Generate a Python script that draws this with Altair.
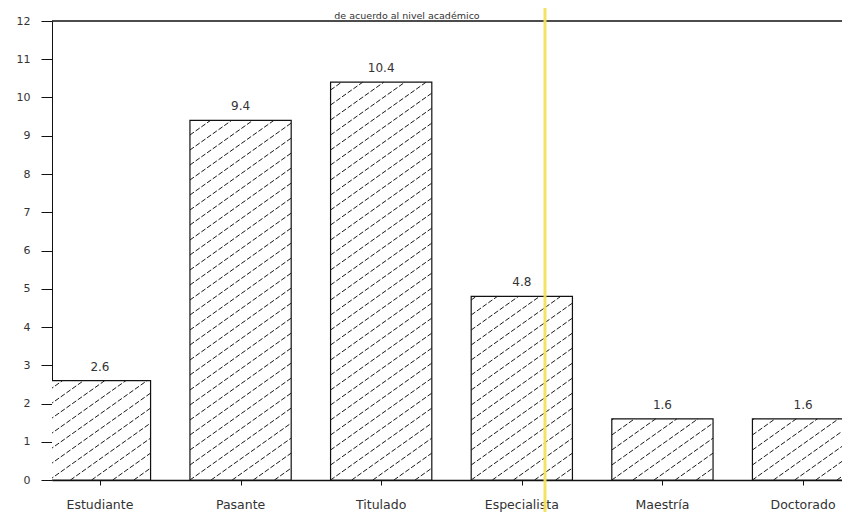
import altair as alt
import pandas as pd
import numpy as np

categories = ["Estudiante", "Pasante", "Titulado", "Especialista", "Maestría", "Doctorado"]
values = [2.6, 9.4, 10.4, 4.8, 1.6, 1.6]
value_labels = ["2.6", "9.4", "10.4", "4.8", "1.6", "1.6"]
y_ticks = list(range(0, 13))
title_text = "de acuerdo al nivel académico"

W, H = 790, 459
X_MIN, X_MAX = -0.341, 5.277
Y_MAX = 12
HALF = 0.36
px_x = W / (X_MAX - X_MIN)
px_y = H / Y_MAX
FONT = "DejaVu Sans"

bars = pd.DataFrame({"idx": list(range(len(categories))), "cat": categories,
                     "value": values, "label": value_labels})
bars["x0"] = bars["idx"] - HALF
bars["x1"] = bars["idx"] + HALF

# hatch segments derived from each bar's rectangle
SLOPE, STEP = 0.71, 15
rows = []
for _, r in bars.iterrows():
    bw = 2 * HALF * px_x
    bh = r["value"] * px_y
    k0 = int(np.floor(-SLOPE * bw / STEP))
    k1 = int(np.ceil(bh / STEP))
    for k in range(k0, k1 + 1):
        c = k * STEP
        lo = max(0.0, -c / SLOPE)
        hi = min(bw, (bh - c) / SLOPE)
        if hi - lo > 0.5:
            rows.append(dict(hx=r["x0"] + lo / px_x, hx2=r["x0"] + hi / px_x,
                             hy=(SLOPE * lo + c) / px_y, hy2=(SLOPE * hi + c) / px_y))
hatch = pd.DataFrame(rows)

xscale = alt.Scale(domain=[X_MIN, X_MAX], nice=False, zero=False)
yscale = alt.Scale(domain=[0, Y_MAX], nice=False)
xaxis = alt.Axis(values=list(range(len(categories))), labels=False, tickSize=5,
                 grid=False, title=None, domainColor="#111", tickColor="#111",
                 domainWidth=1.3)
yaxis = alt.Axis(values=y_ticks, tickSize=11, labelPadding=11, labelFontSize=11,
                 labelFont=FONT, labelColor="#333", grid=False, title=None,
                 domainColor="#111", tickColor="#111")

base = alt.Chart(bars)

rects = base.mark_rect(fill="white", stroke="#111", strokeWidth=1.2, clip=True).encode(
    x=alt.X("x0:Q", scale=xscale, axis=xaxis),
    x2="x1:Q",
    y=alt.Y("value:Q", scale=yscale, axis=yaxis),
    y2=alt.datum(0),
)

hatch_layer = alt.Chart(hatch).mark_rule(strokeDash=[5, 2], strokeWidth=1, color="#1a1a1a",
                                          clip=True).encode(
    x=alt.X("hx:Q", scale=xscale, axis=xaxis),
    x2="hx2:Q",
    y=alt.Y("hy:Q", scale=yscale, axis=yaxis),
    y2="hy2:Q",
)

val_text = base.mark_text(dy=-14, fontSize=12, font=FONT, color="#333").encode(
    x=alt.X("idx:Q", scale=xscale, axis=xaxis),
    y=alt.Y("value:Q", scale=yscale, axis=yaxis),
    text="label:N",
)

cat_text = base.mark_text(fontSize=12.5, font=FONT, color="#333",
                          baseline="middle").encode(
    x=alt.X("idx:Q", scale=xscale, axis=xaxis),
    y=alt.value(H + 25),
    text="cat:N",
)

top_rule = alt.Chart(pd.DataFrame({"top": [Y_MAX]})).mark_rule(color="#111", strokeWidth=1.3).encode(
    y=alt.Y("top:Q", scale=yscale, axis=yaxis)
)

title = alt.Chart(pd.DataFrame({"t": [title_text]})).mark_text(
    fontSize=9.5, font=FONT, color="#333", baseline="alphabetic"
).encode(x=alt.value(355), y=alt.value(-2.5), text="t:N")

yellow = alt.Chart(pd.DataFrame({"a": [0]})).mark_rule(color="#f2e15a", strokeWidth=3,
                                                        opacity=0.95).encode(
    x=alt.value(493), y=alt.value(-16), y2=alt.value(H + 52)
)

chart = alt.layer(rects, hatch_layer, top_rule, val_text, cat_text, title, yellow).properties(
    width=W, height=H,
    padding={"left": 44, "top": 13, "right": 0, "bottom": 42},
    autosize=alt.AutoSizeParams(type="none"),
).configure_view(stroke=None)

chart.save("out.html", embed_options={"renderer": "svg", "actions": False})
